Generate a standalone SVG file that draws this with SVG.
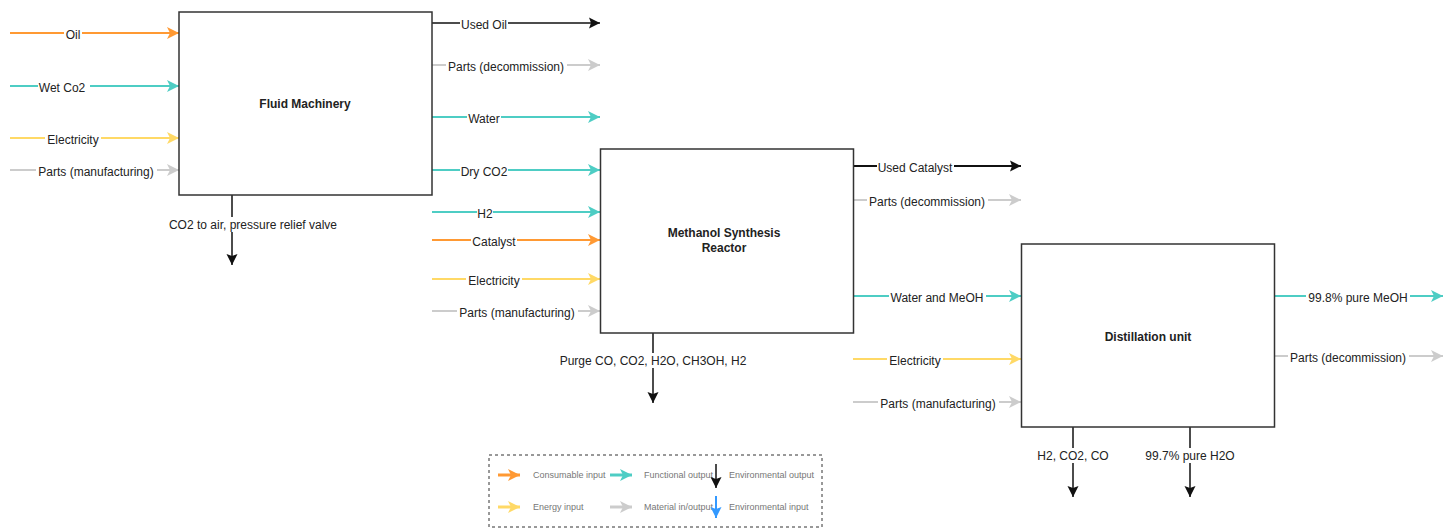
<svg xmlns="http://www.w3.org/2000/svg" width="1453" height="529" viewBox="0 0 1453 529">
<style>
.box{fill:#fff;stroke:#333;stroke-width:1.5}
.title{font-family:"Liberation Sans",Arial,sans-serif;font-size:12px;font-weight:bold;fill:#222;text-anchor:middle}
.lbl{font-family:"Liberation Sans",Arial,sans-serif;font-size:12px;fill:#222;text-anchor:middle}
.bg{fill:#fff}
.or{stroke:#FF9933;stroke-width:2;fill:none}
.te{stroke:#4ECDC4;stroke-width:2;fill:none}
.ye{stroke:#FFD966;stroke-width:2;fill:none}
.gr{stroke:#CCCCCC;stroke-width:2;fill:none}
.bk{stroke:#111;stroke-width:1.5;fill:none}
.leg{font-family:"Liberation Sans",Arial,sans-serif;font-size:9px;fill:#777}
</style>
<defs>
<marker id="mOr" markerUnits="userSpaceOnUse" markerWidth="14" markerHeight="14" refX="12" refY="7" orient="auto"><path d="M0,1 L12,7 L0,13 L3,7 Z" fill="#FF9933"/></marker>
<marker id="mTe" markerUnits="userSpaceOnUse" markerWidth="14" markerHeight="14" refX="12" refY="7" orient="auto"><path d="M0,1 L12,7 L0,13 L3,7 Z" fill="#4ECDC4"/></marker>
<marker id="mYe" markerUnits="userSpaceOnUse" markerWidth="14" markerHeight="14" refX="12" refY="7" orient="auto"><path d="M0,1 L12,7 L0,13 L3,7 Z" fill="#FFD966"/></marker>
<marker id="mGr" markerUnits="userSpaceOnUse" markerWidth="14" markerHeight="14" refX="12" refY="7" orient="auto"><path d="M0,1 L12,7 L0,13 L3,7 Z" fill="#CCCCCC"/></marker>
<marker id="mBk" markerUnits="userSpaceOnUse" markerWidth="14" markerHeight="14" refX="11" refY="7" orient="auto"><path d="M0,1.5 L11,7 L0,12.5 L2,7 Z" fill="#111"/></marker>
<marker id="mBl" markerUnits="userSpaceOnUse" markerWidth="14" markerHeight="14" refX="11" refY="7" orient="auto"><path d="M0,1.5 L11,7 L0,12.5 L2,7 Z" fill="#3399FF"/></marker>
</defs>

<g id="connectors">
  <line class="or" x1="10" y1="33" x2="179" y2="33" marker-end="url(#mOr)"/>
  <line class="te" x1="10" y1="86" x2="179" y2="86" marker-end="url(#mTe)"/>
  <line class="ye" x1="10" y1="138" x2="179" y2="138" marker-end="url(#mYe)"/>
  <line class="gr" x1="10" y1="170" x2="179" y2="170" marker-end="url(#mGr)"/>
  <line class="bk" x1="432" y1="23" x2="600" y2="23" marker-end="url(#mBk)"/>
  <line class="gr" x1="432" y1="65" x2="600" y2="65" marker-end="url(#mGr)"/>
  <line class="te" x1="432" y1="117" x2="600" y2="117" marker-end="url(#mTe)"/>
  <line class="te" x1="432" y1="170" x2="600" y2="170" marker-end="url(#mTe)"/>
  <line class="bk" x1="232" y1="195" x2="232" y2="265" marker-end="url(#mBk)"/>
  <line class="te" x1="432" y1="212" x2="600" y2="212" marker-end="url(#mTe)"/>
  <line class="or" x1="432" y1="240" x2="600" y2="240" marker-end="url(#mOr)"/>
  <line class="ye" x1="432" y1="279" x2="600" y2="279" marker-end="url(#mYe)"/>
  <line class="gr" x1="432" y1="311" x2="600" y2="311" marker-end="url(#mGr)"/>
  <line class="bk" x1="853" y1="166" x2="1021" y2="166" style="stroke-width:2.2" marker-end="url(#mBk)"/>
  <line class="gr" x1="853" y1="200" x2="1021" y2="200" marker-end="url(#mGr)"/>
  <line class="te" x1="853" y1="296" x2="1021" y2="296" marker-end="url(#mTe)"/>
  <line class="bk" x1="653" y1="333" x2="653" y2="403" marker-end="url(#mBk)"/>
  <line class="ye" x1="853" y1="359" x2="1021" y2="359" marker-end="url(#mYe)"/>
  <line class="gr" x1="853" y1="402" x2="1021" y2="402" marker-end="url(#mGr)"/>
  <line class="te" x1="1275" y1="296" x2="1443" y2="296" marker-end="url(#mTe)"/>
  <line class="gr" x1="1275" y1="356" x2="1443" y2="356" marker-end="url(#mGr)"/>
  <line class="bk" x1="1073" y1="427" x2="1073" y2="497" marker-end="url(#mBk)"/>
  <line class="bk" x1="1190" y1="427" x2="1190" y2="497" marker-end="url(#mBk)"/>

  <rect class="bg" x="64" y="26" width="18" height="15"/><text class="lbl" x="73" y="38.5">Oil</text>
  <rect class="bg" x="38" y="79" width="52" height="15"/><text class="lbl" x="62" y="91.5">Wet Co2 </text>
  <rect class="bg" x="45" y="131" width="56" height="15"/><text class="lbl" x="73" y="143.5">Electricity</text>
  <rect class="bg" x="36" y="163" width="121" height="15"/><text class="lbl" x="96" y="175.5">Parts (manufacturing)</text>

  <rect class="bg" x="460" y="16" width="48" height="15"/><text class="lbl" x="484" y="28.5">Used Oil</text>
  <rect class="bg" x="446" y="58" width="121" height="15"/><text class="lbl" x="506" y="70.5">Parts (decommission)</text>
  <rect class="bg" x="467" y="110" width="34" height="15"/><text class="lbl" x="484" y="122.5">Water</text>
  <rect class="bg" x="460" y="163" width="48" height="15"/><text class="lbl" x="484" y="175.5">Dry CO2</text>
  <rect class="bg" x="154" y="217" width="198" height="15"/><text class="lbl" x="253" y="228.5">CO2 to air, pressure relief valve</text>

  <rect class="bg" x="477" y="205" width="16" height="15"/><text class="lbl" x="485" y="217.5">H2</text>
  <rect class="bg" x="471" y="233" width="46" height="15"/><text class="lbl" x="494" y="245.5">Catalyst</text>
  <rect class="bg" x="466" y="272" width="56" height="15"/><text class="lbl" x="494" y="284.5">Electricity</text>
  <rect class="bg" x="457" y="304" width="121" height="15"/><text class="lbl" x="517" y="316.5">Parts (manufacturing)</text>

  <rect class="bg" x="877" y="159" width="77" height="15"/><text class="lbl" x="915" y="171.5">Used Catalyst</text>
  <rect class="bg" x="867" y="193" width="121" height="15"/><text class="lbl" x="927" y="205.5">Parts (decommission)</text>
  <rect class="bg" x="889" y="289" width="97" height="15"/><text class="lbl" x="937" y="301.5">Water and MeOH</text>
  <rect class="bg" x="553" y="353" width="201" height="15"/><text class="lbl" x="653" y="364.5">Purge CO, CO2, H2O, CH3OH, H2</text>

  <rect class="bg" x="887" y="352" width="56" height="15"/><text class="lbl" x="915" y="364.5">Electricity</text>
  <rect class="bg" x="878" y="395" width="121" height="15"/><text class="lbl" x="938" y="407.5">Parts (manufacturing)</text>

  <rect class="bg" x="1306" y="289" width="104" height="15"/><text class="lbl" x="1358" y="301.5">99.8% pure MeOH</text>
  <rect class="bg" x="1288" y="349" width="121" height="15"/><text class="lbl" x="1348" y="361.5">Parts (decommission)</text>
  <rect class="bg" x="1035" y="448" width="76" height="15"/><text class="lbl" x="1073" y="459.5">H2, CO2, CO</text>
  <rect class="bg" x="1143" y="448" width="94" height="15"/><text class="lbl" x="1190" y="459.5">99.7% pure H2O</text>
</g>

<g id="fluid-machinery">
  <rect class="box" x="179" y="12" width="253" height="183"/>
  <text class="title" x="305" y="108">Fluid Machinery</text>
</g>
<g id="methanol-reactor">
  <rect class="box" x="600.5" y="149" width="253" height="184"/>
  <text class="title" x="724" y="237">Methanol Synthesis</text>
  <text class="title" x="724" y="252">Reactor</text>
</g>
<g id="distillation-unit">
  <rect class="box" x="1021.5" y="244" width="253" height="183"/>
  <text class="title" x="1148" y="341">Distillation unit</text>
</g>

<g id="legend">
  <rect x="489" y="455" width="333" height="72" fill="#fff" stroke="#333" stroke-width="1" stroke-dasharray="3,3"/>
  <line x1="498" y1="475" x2="520" y2="475" stroke="#FF9933" stroke-width="3" marker-end="url(#mOr)"/>
  <text class="leg" x="533" y="478">Consumable input</text>
  <line x1="610" y1="475" x2="632" y2="475" stroke="#4ECDC4" stroke-width="3" marker-end="url(#mTe)"/>
  <text class="leg" x="644" y="478">Functional output</text>
  <line x1="716" y1="464" x2="716" y2="488" stroke="#111" stroke-width="1.5" marker-end="url(#mBk)"/>
  <text class="leg" x="729" y="478">Environmental output</text>
  <line x1="498" y1="507" x2="520" y2="507" stroke="#FFD966" stroke-width="3" marker-end="url(#mYe)"/>
  <text class="leg" x="533" y="510">Energy input</text>
  <line x1="610" y1="507" x2="632" y2="507" stroke="#CCCCCC" stroke-width="3" marker-end="url(#mGr)"/>
  <text class="leg" x="644" y="510">Material in/output</text>
  <line x1="716" y1="496" x2="716" y2="518" stroke="#3399FF" stroke-width="2" marker-end="url(#mBl)"/>
  <text class="leg" x="729" y="510">Environmental input</text>
</g>
</svg>
